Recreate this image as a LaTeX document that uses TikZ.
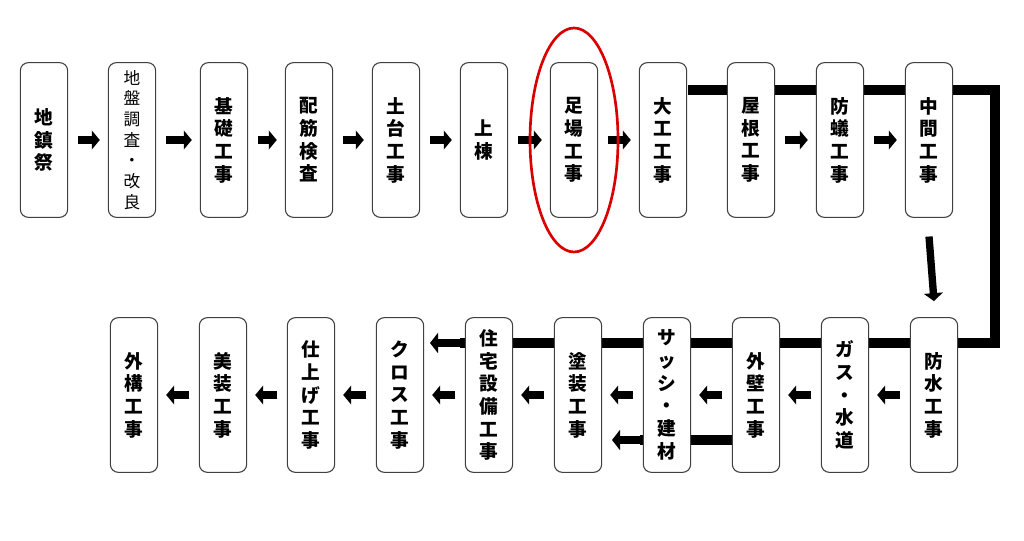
\documentclass[tikz,border=0pt]{standalone}
\usepackage{fontspec}
\newfontfamily\jp{Noto Sans CJK JP}
\usetikzlibrary{arrows.meta}
\begin{document}
\begin{tikzpicture}[x=0.75pt,y=-0.75pt,
  box/.style={draw=black!75,line width=0.8pt,rounded corners=6pt,fill=white,minimum width=35.5pt,minimum height=116pt,inner sep=0pt,align=center,font=\jp\bfseries\fontsize{14}{17}\selectfont},
  thin/.style={font=\jp\fontsize{12.5}{15.5}\selectfont},
  blk/.style={line width=5.5pt,-{Triangle[length=6pt,width=14pt]}},
  bar/.style={line width=7.5pt}]
\useasboundingbox (0,0) rectangle (1024,541);
% thick lines first
\coordinate (c1) at (995,90);
\coordinate (c2) at (995,343);
\coordinate (e1) at (430,343);
\draw[bar] (688,90) -- (c1) -- (c2) -- (460,343);
\draw[blk,-{Triangle[length=6pt,width=15pt]}] (470,343) -- (e1);
\coordinate (e2) at (612,440);
\draw[bar] (733,440) -- (640,440);
\draw[blk,-{Triangle[length=6pt,width=15pt]}] (650,440) -- (e2);
% top row
\foreach \n/\x/\t in {a/44/地\\鎮\\祭, c/224/基\\礎\\工\\事, d/309/配\\筋\\検\\査, e/396/土\\台\\工\\事, f/484/上\\棟, g/574/足\\場\\工\\事, h/663/大\\工\\工\\事, i/751/屋\\根\\工\\事, j/840/防\\蟻\\工\\事, k/929/中\\間\\工\\事}
  \node[box] (\n) at (\x,140) {\t};
\node[box,thin] (b) at (132,140) {地\\盤\\調\\査\\・\\改\\良};
% bottom row
\foreach \n/\x/\t in {p/934/防\\水\\工\\事, q/845/ガ\\ス\\・\\水\\道, r/756/外\\壁\\工\\事, s/667/サ\\ッ\\シ\\・\\建\\材, t/578/塗\\装\\工\\事, u/489/住\\宅\\設\\備\\工\\事, v/400/ク\\ロ\\ス\\工\\事, w/311/仕\\上\\げ\\工\\事, x/223/美\\装\\工\\事, y/134/外\\構\\工\\事}
  \node[box] (\n) at (\x,395) {\t};
% top arrows
\foreach \m/\n in {a/b,b/c,c/d,d/e,e/f,f/g,g/h,i/j,j/k}
  \draw[blk] ([xshift=7pt]\m.east) -- ([xshift=-6pt]\n.west);
\draw[blk] ([yshift=-14pt]k.south) -- ([yshift=12pt]p.north);
% bottom arrows
\foreach \m/\n in {p/q,q/r,r/s,s/t,u/v,v/w,w/x,x/y}
  \draw[blk] ([xshift=-7pt]\m.west) -- ([xshift=6pt]\n.east);
\draw[blk] ([xshift=-7pt]t.west) -- ([xshift=6pt]u.east);
% red ellipse
\draw[red!85!black,line width=2pt] (574,140) ellipse [x radius=44,y radius=112];
\end{tikzpicture}
\end{document}
